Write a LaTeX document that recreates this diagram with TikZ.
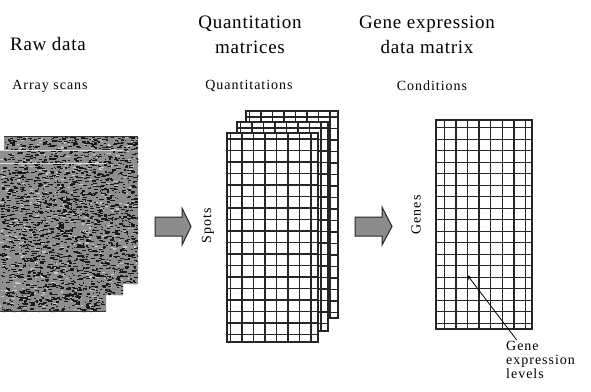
\documentclass[tikz,border=0pt]{standalone}
\usepackage{fontspec}
\setmainfont{Liberation Serif}
\newfontfamily\titlefont[LetterSpace=4]{Liberation Serif}
\newfontfamily\subfont[LetterSpace=7]{Liberation Serif}
\usetikzlibrary{arrows.meta}
\definecolor{scangray}{HTML}{8E8E8E}
\definecolor{arrowgray}{HTML}{8C8C8C}
% x, y, width, height, first x offset, first y offset, x step, y step
\newcommand\mgrid[8]{%
  \filldraw[fill=white, gridline] (#1,#2) rectangle ++(#3,#4);
  \foreach \k in {0,...,7}{
    \pgfmathsetmacro\gx{#1+#5+#7*\k}
    \draw[gridline] (\gx,#2) -- ++(0,#4);
  }
  \foreach \k in {0,...,17}{
    \pgfmathsetmacro\gy{#2+#6+#8*\k}
    \draw[gridline] (#1,\gy) -- ++(#3,0);
  }
}
\begin{document}
\begin{tikzpicture}[x=1pt,y=-1pt,
  gridline/.style={draw=black!85, line width=1.25pt},
  title/.style={inner sep=0pt, align=center, font=\titlefont\fontsize{19}{25}\selectfont},
  subtitle/.style={inner sep=0pt, align=center, font=\subfont\fontsize{14}{14}\selectfont},
  blockarrow/.style={fill=arrowgray, draw=black!85, line width=1pt, line join=miter}]
\useasboundingbox (0,0) rectangle (591,391);

% titles
\node[title] (rawdata) at (48,44) {Raw data};
\node[title] (quanttitle) at (250,35) {Quantitation\\matrices};
\node[title] (genetitle) at (427,35) {Gene expression\\data matrix};
\node[subtitle] (arrayscans) at (50,86) {Array scans};
\node[subtitle] (quantitations) at (249,86) {Quantitations};
\node[subtitle] (conditions) at (432,86) {Conditions};

% array scans texture
\pgfmathsetseed{7}
\begin{scope}
  \clip (4,136) -- (138,136) -- (138,284) -- (123,284) -- (123,295) -- (106,295) -- (106,312) -- (0,312) -- (0,150) -- (4,150) -- cycle;
  \fill[scangray] (0,136) rectangle (138,312);
  \foreach \i in {1,...,500}{
    \pgfmathsetmacro\rx{rnd*140}
    \pgfmathsetmacro\ry{136+rnd*176}
    \pgfmathsetmacro\rw{1+rnd*3}
    \fill[gray!45] (\rx,\ry) rectangle ++(\rw,1.2);
  }
  \foreach \i in {1,...,2300}{
    \pgfmathsetmacro\rx{rnd*140}
    \pgfmathsetmacro\ry{136+rnd*176}
    \pgfmathsetmacro\rw{1+rnd*3.5}
    \fill[black!90] (\rx,\ry) rectangle ++(\rw,1.2);
  }
  \draw[gray!25, line width=0.9pt] (0,150) -- (123,150);
  \draw[gray!25, line width=0.9pt] (0,163) -- (106,163);
  \draw[black!80, line width=1.2pt] (4,136.6) -- (138,136.6);
  \draw[black!80, line width=1.2pt] (0,311.4) -- (106,311.4);
\end{scope}

% block arrows
\draw[blockarrow] (155,217) -- (182,217) -- (182,208) -- (191,226.5) -- (182,245) -- (182,236) -- (155,236) -- cycle;
\draw[blockarrow] (355,217) -- (382,217) -- (382,207) -- (392,226.5) -- (382,245) -- (382,236) -- (355,236) -- cycle;

% quantitation matrices
\mgrid{246}{111}{92}{207}{3.5}{6}{11.5}{11.5}
\mgrid{237}{122}{91}{209}{3.5}{6}{11.5}{11.5}
\mgrid{227}{133}{91}{209}{3.5}{6}{11.5}{11.5}
\node[subtitle, rotate=90] (spots) at (208,226) {Spots};

% gene expression matrix
\mgrid{436}{120}{96}{209}{8.3}{7.7}{11.6}{11.5}
\node[subtitle, rotate=90] (genes) at (416,215) {Genes};

% gene expression levels label
\node[subtitle, anchor=north west, align=left] (gel) at (506,341) {Gene\\expression\\levels};
\coordinate (gelend) at (516.7,340);
\coordinate (gelcell) at (467.3,275);
\draw[black, line width=0.8pt, -{Stealth[length=5pt,width=4pt]}] (gelend) -- (gelcell);
\end{tikzpicture}
\end{document}
